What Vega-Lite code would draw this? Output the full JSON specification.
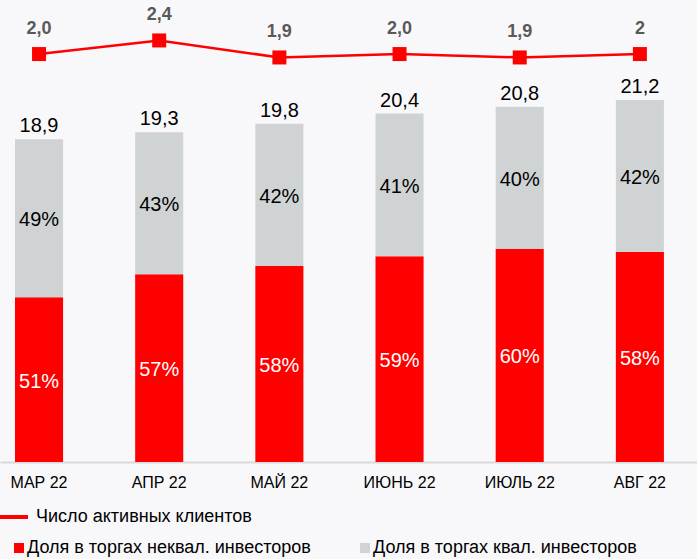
{
  "$schema": "https://vega.github.io/schema/vega-lite/v6.json",
  "width": 697,
  "height": 462,
  "autosize": {"type": "none"},
  "padding": {"top": 0, "bottom": 97, "left": 0, "right": 0},
  "background": "#f8f8fa",
  "config": {"view": {"stroke": null}, "font": "Liberation Sans", "text": {"font": "Liberation Sans"}},
  "datasets": {
    "bars": [
      {"month": "МАР 22", "type": "Доля в торгах неквал. инвесторов", "value": 9.64, "pct": "51%"},
      {"month": "МАР 22", "type": "Доля в торгах квал. инвесторов", "value": 9.26, "pct": "49%"},
      {"month": "АПР 22", "type": "Доля в торгах неквал. инвесторов", "value": 11.0, "pct": "57%"},
      {"month": "АПР 22", "type": "Доля в торгах квал. инвесторов", "value": 8.3, "pct": "43%"},
      {"month": "МАЙ 22", "type": "Доля в торгах неквал. инвесторов", "value": 11.48, "pct": "58%"},
      {"month": "МАЙ 22", "type": "Доля в торгах квал. инвесторов", "value": 8.32, "pct": "42%"},
      {"month": "ИЮНЬ 22", "type": "Доля в торгах неквал. инвесторов", "value": 12.04, "pct": "59%"},
      {"month": "ИЮНЬ 22", "type": "Доля в торгах квал. инвесторов", "value": 8.36, "pct": "41%"},
      {"month": "ИЮЛЬ 22", "type": "Доля в торгах неквал. инвесторов", "value": 12.48, "pct": "60%"},
      {"month": "ИЮЛЬ 22", "type": "Доля в торгах квал. инвесторов", "value": 8.32, "pct": "40%"},
      {"month": "АВГ 22", "type": "Доля в торгах неквал. инвесторов", "value": 12.3, "pct": "58%"},
      {"month": "АВГ 22", "type": "Доля в торгах квал. инвесторов", "value": 8.9, "pct": "42%"}
    ],
    "months": [
      {"month": "МАР 22", "total": 18.9, "totalLabel": "18,9", "clients": 2.0, "clientsLabel": "2,0"},
      {"month": "АПР 22", "total": 19.3, "totalLabel": "19,3", "clients": 2.4, "clientsLabel": "2,4"},
      {"month": "МАЙ 22", "total": 19.8, "totalLabel": "19,8", "clients": 1.9, "clientsLabel": "1,9"},
      {"month": "ИЮНЬ 22", "total": 20.4, "totalLabel": "20,4", "clients": 2.0, "clientsLabel": "2,0"},
      {"month": "ИЮЛЬ 22", "total": 20.8, "totalLabel": "20,8", "clients": 1.9, "clientsLabel": "1,9"},
      {"month": "АВГ 22", "total": 21.2, "totalLabel": "21,2", "clients": 2.0, "clientsLabel": "2"}
    ]
  },
  "encoding": {
    "x": {
      "field": "month",
      "type": "nominal",
      "sort": ["МАР 22", "АПР 22", "МАЙ 22", "ИЮНЬ 22", "ИЮЛЬ 22", "АВГ 22"],
      "scale": {"paddingInner": 0.6, "paddingOuter": 0.2, "align": 0.312},
      "axis": {
        "title": null,
        "labelAngle": 0,
        "labelFontSize": 16,
        "labelFont": "Liberation Sans",
        "labelColor": "#000000",
        "domainColor": "#d9d9d9",
        "domainWidth": 2,
        "ticks": false,
        "labelPadding": 12
      }
    }
  },
  "layer": [
    {
      "layer": [
        {
          "data": {"name": "bars"},
          "mark": {"type": "bar"},
          "encoding": {
            "y": {"field": "value", "type": "quantitative", "stack": "zero", "scale": {"domain": [0, 27.05], "nice": false, "zero": true}, "axis": null},
            "color": {
              "field": "type",
              "type": "nominal",
              "sort": ["Доля в торгах неквал. инвесторов", "Доля в торгах квал. инвесторов"],
              "scale": {"domain": ["Доля в торгах неквал. инвесторов", "Доля в торгах квал. инвесторов"], "range": ["#ff0000", "#d0d3d4"]},
              "legend": {
                "orient": "none",
                "legendX": 10,
                "legendY": 539,
                "direction": "horizontal",
                "title": null,
                "symbolType": "square",
                "symbolSize": 100,
                "symbolStrokeWidth": 0,
                "labelFontSize": 18,
                "labelFont": "Liberation Sans",
                "labelColor": "#000000",
                "labelOffset": -1,
                "columnPadding": 45,
                "padding": 0,
                "labelLimit": 400
              }
            },
            "order": {"field": "type", "type": "nominal", "sort": "descending"}
          }
        },
        {
          "data": {"name": "bars"},
          "transform": [
            {"stack": "value", "groupby": ["month"], "sort": [{"field": "type", "order": "descending"}], "as": ["v0", "v1"]},
            {"fold": ["v0", "v1"], "as": ["k", "pos"]}
          ],
          "mark": {"type": "text", "fontSize": 20, "baseline": "middle", "dy": 2, "font": "Liberation Sans"},
          "encoding": {
            "y": {"aggregate": "mean", "field": "pos", "type": "quantitative", "scale": {"domain": [0, 27.05], "nice": false}, "axis": null},
            "text": {"field": "pct", "type": "nominal"},
            "detail": {"field": "type", "type": "nominal"},
            "color": {
              "condition": {"test": "datum.type === 'Доля в торгах неквал. инвесторов'", "value": "#ffffff"},
              "value": "#000000"
            }
          }
        },
        {
          "data": {"name": "months"},
          "mark": {"type": "text", "fontSize": 20, "baseline": "alphabetic", "dy": -7, "color": "#000000", "font": "Liberation Sans"},
          "encoding": {
            "y": {"field": "total", "type": "quantitative", "scale": {"domain": [0, 27.05], "nice": false}, "axis": null},
            "text": {"field": "totalLabel", "type": "nominal"}
          }
        }
      ]
    },
    {
      "data": {"name": "months"},
      "layer": [
        {
          "mark": {"type": "line", "strokeWidth": 2.5},
          "encoding": {
            "y": {"field": "clients", "type": "quantitative", "scale": {"domain": [-10, 3.59], "nice": false, "zero": false}, "axis": null},
            "stroke": {
              "datum": "Число активных клиентов",
              "type": "nominal",
              "scale": {"domain": ["Число активных клиентов"], "range": ["#ff0000"]},
              "legend": {
                "orient": "none",
                "legendX": -6,
                "legendY": 499,
                "title": null,
                "symbolType": "stroke",
                "symbolStrokeWidth": 4,
                "symbolSize": 1024,
                "labelFontSize": 18,
                "labelFont": "Liberation Sans",
                "labelColor": "#000000",
                "labelOffset": 6,
                "padding": 0,
                "labelLimit": 400
              }
            }
          }
        },
        {
          "mark": {"type": "point", "shape": "square", "filled": true, "size": 196, "color": "#ff0000", "opacity": 1},
          "encoding": {
            "y": {"field": "clients", "type": "quantitative", "scale": {"domain": [-10, 3.59], "nice": false, "zero": false}, "axis": null}
          }
        },
        {
          "mark": {"type": "text", "fontSize": 18, "fontWeight": "bold", "baseline": "alphabetic", "dy": -20, "color": "#595959", "font": "Liberation Sans"},
          "encoding": {
            "y": {"field": "clients", "type": "quantitative", "scale": {"domain": [-10, 3.59], "nice": false, "zero": false}, "axis": null},
            "text": {"field": "clientsLabel", "type": "nominal"}
          }
        }
      ]
    }
  ],
  "resolve": {"scale": {"y": "independent"}}
}
